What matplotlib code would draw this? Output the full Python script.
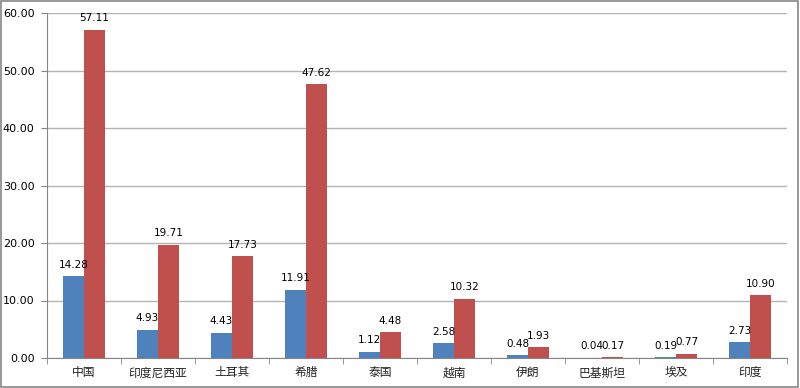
import matplotlib
matplotlib.use("Agg")
import matplotlib.pyplot as plt
import numpy as np
from matplotlib.patches import Rectangle

categories = ["中国", "印度尼西亚", "土耳其", "希腊", "泰国", "越南", "伊朗", "巴基斯坦", "埃及", "印度"]
series_blue = [14.28, 4.93, 4.43, 11.91, 1.12, 2.58, 0.48, 0.04, 0.19, 2.73]
series_red = [57.11, 19.71, 17.73, 47.62, 4.48, 10.32, 1.93, 0.17, 0.77, 10.90]
yticks = [0, 10, 20, 30, 40, 50, 60]

plt.rcParams['font.family'] = ['DejaVu Sans', 'Noto Sans CJK SC']

fig = plt.figure(figsize=(8, 3.88), dpi=100)
ax = fig.add_axes([47/800, 30/388, 740/800, 345/388])

x = np.arange(len(categories))
w = 0.285
ax.bar(x - w/2, series_blue, w, color='#4F81BD', zorder=3)
ax.bar(x + w/2, series_red, w, color='#C0504D', zorder=3)

for xi, v in zip(x, series_blue):
    ax.text(xi - w/2, v + 1.1, f"{v:.2f}", ha='center', va='bottom', fontsize=7.5, color='#000000')
for xi, v in zip(x, series_red):
    ax.text(xi + w/2, v + 1.1, f"{v:.2f}", ha='center', va='bottom', fontsize=7.5, color='#000000')

ax.set_xlim(-0.5, len(categories) - 0.5)
ax.set_ylim(0, 60)
ax.set_yticks(yticks)
ax.set_yticklabels([f"{t:.2f}" for t in yticks], fontsize=8)
ax.set_xticks(x)
ax.set_xticklabels(categories, fontsize=8.5, color='#222222', family=['Noto Sans CJK SC', 'DejaVu Sans'])
ax.tick_params(axis='x', length=0, pad=6)
ax.set_xticks(np.arange(-0.5, len(categories), 1.0), minor=True)
ax.tick_params(axis='x', which='minor', length=4, color='#868686')
ax.tick_params(axis='y', length=4, color='#868686', pad=5)
ax.yaxis.grid(True, color='#B3B3B3', linewidth=1.0, zorder=0)
ax.set_axisbelow(True)
for s in ['top', 'right']:
    ax.spines[s].set_visible(False)
for s in ['left', 'bottom']:
    ax.spines[s].set_color('#868686')

fig.patches.append(Rectangle((0.001, 0.002), 0.997, 0.995, transform=fig.transFigure,
                             fill=False, edgecolor='#868686', linewidth=1.2))

fig.savefig("out.png", dpi=100)
